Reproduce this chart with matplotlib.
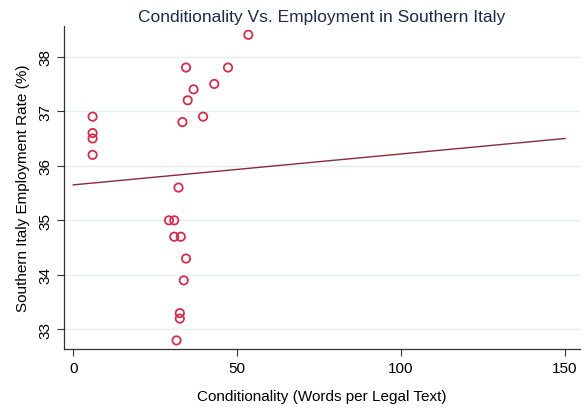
import matplotlib
matplotlib.use("Agg")
import matplotlib.pyplot as plt

plt.rcParams['font.family'] = ['Liberation Sans', 'DejaVu Sans']

conditionality = [53.4, 34.4, 47.2, 43.0, 36.7, 34.9, 39.6, 33.3,
                  5.9, 5.9, 5.9, 5.9,
                  32.1, 29.2, 30.8, 30.8, 32.8, 34.4, 33.7, 32.5, 32.5, 31.5]
employment = [38.4, 37.8, 37.8, 37.5, 37.4, 37.2, 36.9, 36.8,
              36.9, 36.6, 36.5, 36.2,
              35.6, 35.0, 35.0, 34.7, 34.7, 34.3, 33.9, 33.3, 33.2, 32.8]
fit_x = [0, 150]
fit_y = [35.65, 36.5]
x_ticks = [0, 50, 100, 150]
y_ticks = [33, 34, 35, 36, 37, 38]

fig = plt.figure(figsize=(5.88, 4.10), dpi=100)
ax = fig.add_axes([0.109, 0.146, 0.877, 0.788])

for y in y_ticks:
    ax.axhline(y, color='#e6eef0', lw=1.0, zorder=0)

ax.scatter(conditionality, employment, s=36, facecolors='none',
           edgecolors='#d0304f', linewidths=1.3, zorder=3)
ax.plot(fit_x, fit_y, color='#8c2a3a', lw=1.0, zorder=2)

ax.set_xlim(-2.8, 154.5)
ax.set_ylim(32.64, 38.56)
ax.set_xticks(x_ticks)
ax.set_yticks(y_ticks)
ax.set_yticklabels([str(v) for v in y_ticks], rotation=90, va='center')
ax.tick_params(axis='both', direction='out', length=5, width=0.8,
               color='#333333', labelsize=11)

for s in ['top', 'right']:
    ax.spines[s].set_visible(False)
for s in ['left', 'bottom']:
    ax.spines[s].set_color('#333333')
    ax.spines[s].set_linewidth(0.9)

ax.set_xlabel('Conditionality (Words per Legal Text)', fontsize=11, labelpad=10)
ax.set_ylabel('Southern Italy Employment Rate (%)', fontsize=11, labelpad=6)
ax.set_title('Conditionality Vs. Employment in Southern Italy', fontsize=12.5,
             color='#1e2b4a', pad=4)

fig.savefig('out.png', dpi=100)
